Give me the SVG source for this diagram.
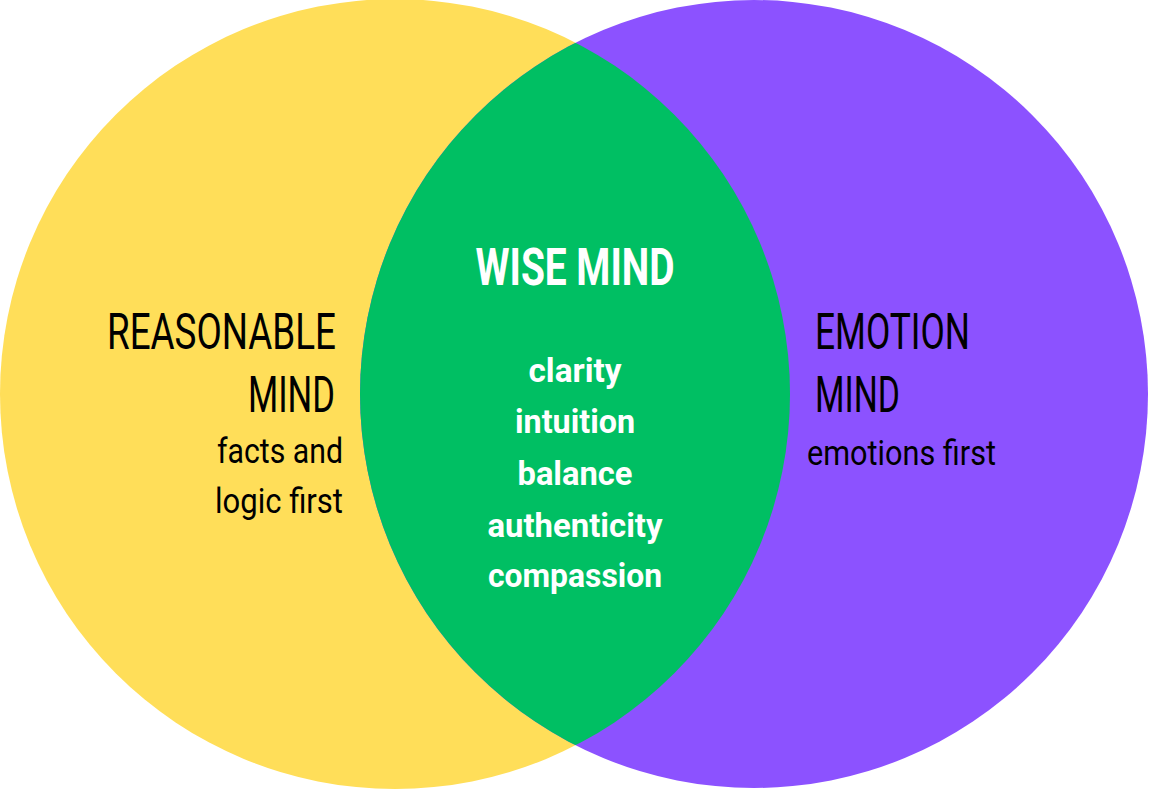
<svg xmlns="http://www.w3.org/2000/svg" width="1150" height="791" viewBox="0 0 1150 791">
<style>
.t{font-family:Roboto,"Liberation Sans",sans-serif;fill:#000}
.w{font-family:Roboto,"Liberation Sans",sans-serif;fill:#fff;font-weight:700;text-anchor:middle}
.big{font-size:50px}
.sm{font-size:35px}
.wb{font-size:52px}
.ws{font-size:34px}
</style>
<defs>
<clipPath id="clipL"><circle cx="395" cy="394" r="395"/></clipPath>
</defs>
<rect width="1150" height="791" fill="#fff"/>
<g id="reasonable">
<circle cx="395" cy="394" r="395" fill="#FFDE59"/>
<text class="t big" x="336" y="349" text-anchor="end" textLength="229" lengthAdjust="spacingAndGlyphs">REASONABLE</text>
<text class="t big" x="335" y="412" text-anchor="end" textLength="87" lengthAdjust="spacingAndGlyphs">MIND</text>
<text class="t sm" x="343" y="463" text-anchor="end" textLength="126" lengthAdjust="spacingAndGlyphs">facts and</text>
<text class="t sm" x="343" y="513" text-anchor="end" textLength="128" lengthAdjust="spacingAndGlyphs">logic first</text>
</g>
<g id="emotion">
<circle cx="754" cy="394" r="394" fill="#8C52FF"/>
<text class="t big" x="815" y="349" textLength="155" lengthAdjust="spacingAndGlyphs">EMOTION</text>
<text class="t big" x="815" y="412" textLength="85" lengthAdjust="spacingAndGlyphs">MIND</text>
<text class="t sm" x="807" y="465" textLength="189" lengthAdjust="spacingAndGlyphs">emotions first</text>
</g>
<g id="wise">
<circle cx="754" cy="394" r="394" fill="#00BF63" clip-path="url(#clipL)"/>
<text class="w wb" x="575" y="285" textLength="199" lengthAdjust="spacingAndGlyphs">WISE MIND</text>
<text class="w ws" x="575" y="382" textLength="93" lengthAdjust="spacingAndGlyphs">clarity</text>
<text class="w ws" x="575" y="433" textLength="120" lengthAdjust="spacingAndGlyphs">intuition</text>
<text class="w ws" x="575" y="485" textLength="115" lengthAdjust="spacingAndGlyphs">balance</text>
<text class="w ws" x="575" y="537" textLength="175" lengthAdjust="spacingAndGlyphs">authenticity</text>
<text class="w ws" x="575" y="587" textLength="174" lengthAdjust="spacingAndGlyphs">compassion</text>
</g>
<g id="connectors"/>
</svg>
